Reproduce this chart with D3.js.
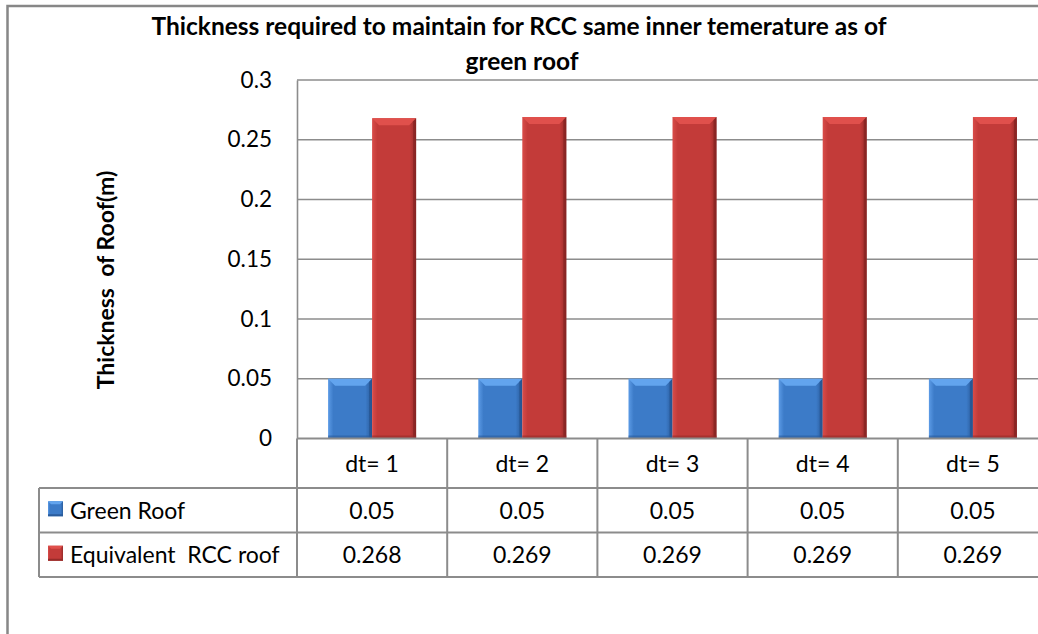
<!DOCTYPE html>
<html>
<head>
<meta charset="utf-8">
<script src="https://cdn.jsdelivr.net/npm/d3@7"></script>
<style>
  html, body { margin: 0; padding: 0; background: #fff; }
  svg { display: block; font-family: Lato, "Open Sans", sans-serif; }
  svg text { white-space: pre; }
</style>
</head>
<body>
<svg id="chart" width="1038" height="634"></svg>
<script>
// Chart data
const categories = ["dt= 1", "dt= 2", "dt= 3", "dt= 4", "dt= 5"];
const seriesNames = ["Green Roof", "Equivalent  RCC roof"];
const greenRoof = [0.05, 0.05, 0.05, 0.05, 0.05];
const rccRoof = [0.268, 0.269, 0.269, 0.269, 0.269];
const tickValues = [0, 0.05, 0.1, 0.15, 0.2, 0.25, 0.3];
const titleLines = ["Thickness required to maintain for RCC same inner temerature as of", "green roof"];
const yTitle = "Thickness  of Roof(m)";

const series = [
  { name: seriesNames[0], values: greenRoof, key: "blue" },
  { name: seriesNames[1], values: rccRoof, key: "red" }
];

const palette = {
  blue: { face: "#3c7bc8", light: "#5c9be6", top: "#62a4ee", dark: "#2a5c9c", edge: "#234f88" },
  red:  { face: "#c33b39", light: "#d94c49", top: "#e0504c", dark: "#962b29", edge: "#7d1f1e" }
};

const svg = d3.select("#chart");
const gridColor = "#8c8c8c";

// Plot area
const plot = { left: 297, top: 80, right: 1048, bottom: 438.5 };

const x = d3.scaleBand()
  .domain(categories)
  .range([plot.left, plot.right])
  .paddingInner(0.414)
  .paddingOuter(0.207);

const xs = d3.scaleBand()
  .domain(series.map(s => s.name))
  .range([0, x.bandwidth()])
  .padding(0);

const y = d3.scaleLinear().domain([0, 0.3]).range([plot.bottom, plot.top]);

// Gradients for the bevelled bars
const defs = svg.append("defs");
Object.entries(palette).forEach(([k, c]) => {
  const g = defs.append("linearGradient").attr("id", "face-" + k)
    .attr("x1", "0").attr("x2", "1").attr("y1", "0").attr("y2", "0");
  g.append("stop").attr("offset", "0").attr("stop-color", c.light);
  g.append("stop").attr("offset", "0.12").attr("stop-color", c.face);
  g.append("stop").attr("offset", "0.85").attr("stop-color", c.face);
  g.append("stop").attr("offset", "1").attr("stop-color", c.dark);
});

// Outer chart frame
svg.append("rect")
  .attr("x", 7.5).attr("y", 6)
  .attr("width", 1060).attr("height", 660)
  .attr("fill", "none").attr("stroke", "#878787").attr("stroke-width", 2.5);

// Gridlines
svg.append("g")
  .selectAll("line")
  .data(tickValues.filter(v => v > 0))
  .join("line")
  .attr("x1", plot.left).attr("x2", plot.right)
  .attr("y1", d => y(d)).attr("y2", d => y(d))
  .attr("stroke", gridColor).attr("stroke-width", 1.6);

// Y axis
const yAxis = d3.axisLeft(y)
  .tickValues(tickValues)
  .tickSize(0)
  .tickPadding(25)
  .tickFormat(d => d === 0 ? "0" : String(+d.toFixed(2)));

const gy = svg.append("g")
  .attr("transform", `translate(${plot.left},0)`)
  .call(yAxis);
gy.select(".domain").attr("stroke", gridColor).attr("stroke-width", 1.6);
gy.selectAll("text")
  .attr("font-family", "Lato, sans-serif")
  .attr("font-size", 22.5)
  .attr("fill", "#000");

// Bars
const bevel = 7;
const groups = svg.append("g")
  .selectAll("g")
  .data(categories)
  .join("g")
  .attr("transform", d => `translate(${x(d)},0)`);

series.forEach((s, si) => {
  const c = palette[s.key];
  groups.each(function (cat, i) {
    const g = d3.select(this);
    const bx = xs(s.name);
    const bw = xs.bandwidth();
    const by = y(s.values[i]);
    const bh = y(0) - by;
    g.append("rect")
      .attr("x", bx).attr("y", by).attr("width", bw).attr("height", bh)
      .attr("fill", `url(#face-${s.key})`);
    // top bevel
    g.append("path")
      .attr("d", `M${bx},${by}L${bx + bw},${by}L${bx + bw - bevel},${by + bevel}L${bx + bevel},${by + bevel}Z`)
      .attr("fill", c.top);
    // right edge shadow
    g.append("path")
      .attr("d", `M${bx + bw},${by}L${bx + bw},${by + bh}L${bx + bw - 3},${by + bh}L${bx + bw - 3},${by + 3}Z`)
      .attr("fill", c.edge).attr("opacity", 0.6);
    // bottom shade
    g.append("rect")
      .attr("x", bx).attr("y", by + bh - 3).attr("width", bw).attr("height", 3)
      .attr("fill", c.dark).attr("opacity", 0.6);
  });
});

// Data table beneath the plot
const rowTop = [438.5, 488, 532.5, 577];
const tableLeft = 39;
const tbl = svg.append("g").attr("stroke", gridColor).attr("stroke-width", 2).attr("fill", "none");

// horizontal rules
tbl.append("line").attr("x1", plot.left).attr("x2", plot.right).attr("y1", rowTop[0]).attr("y2", rowTop[0]);
[1, 2, 3].forEach(r => {
  tbl.append("line").attr("x1", tableLeft).attr("x2", plot.right).attr("y1", rowTop[r]).attr("y2", rowTop[r]);
});
// vertical rules
tbl.append("line").attr("x1", tableLeft).attr("x2", tableLeft).attr("y1", rowTop[1]).attr("y2", rowTop[3]);
categories.forEach(c => {
  const cx = x(c) - x.step() * x.paddingInner() / 2;
  tbl.append("line").attr("x1", cx).attr("x2", cx).attr("y1", rowTop[0]).attr("y2", rowTop[3]);
});

// category header text
const txt = svg.append("g").attr("font-size", 23).attr("fill", "#000");
categories.forEach(c => {
  const cx = x(c) + x.bandwidth() / 2;
  txt.append("text").attr("x", cx).attr("y", (rowTop[0] + rowTop[1]) / 2)
    .attr("text-anchor", "middle").attr("dy", "0.36em").text(c);
});

// value rows with legend keys
series.forEach((s, si) => {
  const cy = (rowTop[si + 1] + rowTop[si + 2]) / 2;
  const c = palette[s.key];
  const kg = svg.append("g");
  kg.append("rect").attr("x", 48).attr("y", cy - 9).attr("width", 15).attr("height", 15)
    .attr("fill", `url(#face-${s.key})`);
  kg.append("path")
    .attr("d", `M48,${cy - 9}L63,${cy - 9}L60,${cy - 6}L51,${cy - 6}Z`)
    .attr("fill", c.top);
  kg.append("rect").attr("x", 48).attr("y", cy + 4).attr("width", 15).attr("height", 2)
    .attr("fill", c.dark);
  txt.append("text").attr("x", 70).attr("y", cy).attr("dy", "0.36em").text(s.name);
  categories.forEach((cat, i) => {
    txt.append("text").attr("x", x(cat) + x.bandwidth() / 2).attr("y", cy)
      .attr("text-anchor", "middle").attr("dy", "0.36em").text(String(s.values[i]));
  });
});

// Chart title
const title = svg.append("text")
  .attr("text-anchor", "middle")
  .attr("font-weight", "bold").attr("font-size", 24.5).attr("fill", "#000");
title.append("tspan").attr("x", 519).attr("y", 35).text(titleLines[0]);
title.append("tspan").attr("x", 522).attr("y", 70).text(titleLines[1]);

// Y axis title
svg.append("text")
  .attr("transform", "translate(114,280) rotate(-90)")
  .attr("text-anchor", "middle")
  .attr("font-weight", "bold").attr("font-size", 23).attr("fill", "#000")
  .text(yTitle);
</script>
</body>
</html>
